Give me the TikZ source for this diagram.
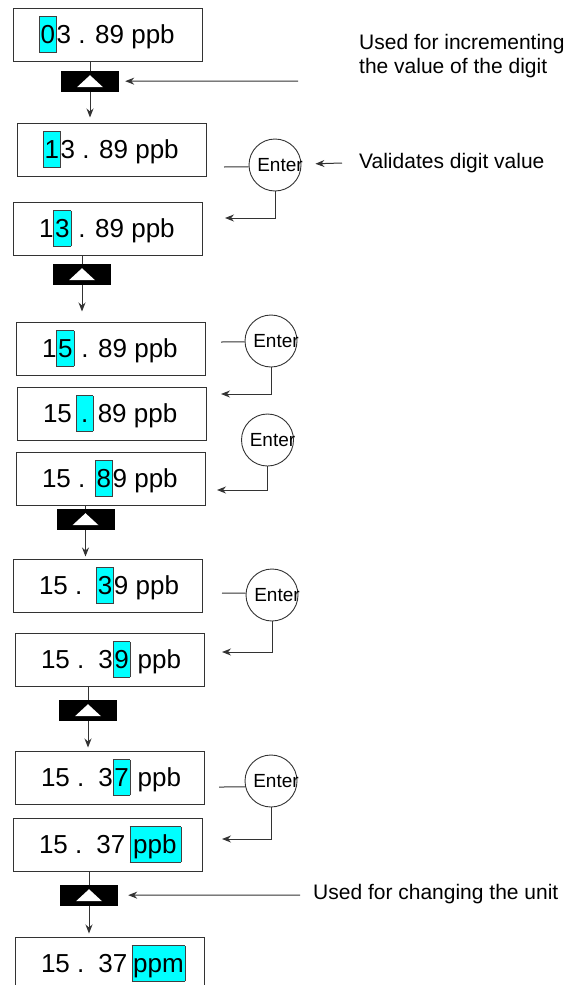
\documentclass[tikz,border=0pt]{standalone}
\usepackage{fontspec}
\setmainfont{Liberation Sans}
\usepackage{tikz}
\usetikzlibrary{positioning,arrows.meta}

\definecolor{cursorcyan}{RGB}{0,255,255}
% cyan cursor behind the digit being edited
\newcommand{\hl}[1]{{\setlength{\fboxsep}{1pt}\setlength{\fboxrule}{0.6pt}%
  \fcolorbox{black!75}{cursorcyan}{\rule[-8pt]{0pt}{33pt}#1}}}
% display text, left aligned inside the box
\newcommand{\readout}[1]{\makebox[137pt][l]{#1}}

\begin{document}
\begin{tikzpicture}[x=1pt, y=-1pt, >={Stealth[length=9pt,width=7pt]},
  display/.style={draw=black!80, line width=1pt, minimum width=189pt, minimum height=53pt,
    inner sep=0pt, font=\fontsize{26}{31}\selectfont},
  upkey/.style={fill=black, minimum width=58pt, minimum height=21pt, inner sep=0pt,
    path picture={\fill[white] ([shift={(-13pt,-6pt)}]path picture bounding box.center)
      -- ([shift={(13pt,-6pt)}]path picture bounding box.center)
      -- ([shift={(0pt,6pt)}]path picture bounding box.center) -- cycle;}},
  enterkey/.style={circle, draw=black!80, line width=0.9pt, minimum size=52pt, inner sep=0pt,
    label={[font=\fontsize{19}{21}\selectfont, xshift=5pt]center:Enter}},
  note/.style={anchor=base west, font=\fontsize{21}{24}\selectfont, align=left, inner sep=0pt},
  wire/.style={draw=black!80, line width=1pt}]
\useasboundingbox (0,0) rectangle (571,985);
\clip (0,0) rectangle (571,985);

% display states
\node[display] (d1) at (107.5,34.5) {\readout{\hl{0}3 . 89 ppb}};
\node[display] (d2) at (111.5,149.5) {\readout{\hl{1}3 . 89 ppb}};
\node[display] (d3) at (107.5,228.5) {\readout{1\hl{3} . 89 ppb}};
\node[display] (d4) at (110.5,348.5) {\readout{1\hl{5} . 89 ppb}};
\node[display] (d5) at (111.5,413.5) {\readout{15\,\hl{\makebox[14pt]{.}}\,89 ppb}};
\node[display] (d6) at (110.5,478.5) {\readout{15 . \hl{8}9 ppb}};
\node[display] (d7) at (107.5,585.5) {\readout{15 . \,\hl{3}9 ppb}};
\node[display] (d8) at (109.5,659.5) {\readout{15 . \,3\hl{9} ppb}};
\node[display] (d9) at (109.5,777.5) {\readout{15 . \,3\hl{7} ppb}};
\node[display] (d10) at (107.5,844.5) {\readout{15 . \,37\,\hl{\hspace{2pt}ppb\hspace{3pt}}}};
\node[display] (d11) at (109.5,963.5) {\readout{15 . \,37\,\hl{ppm}}};

% up keys
\node[upkey, below=9pt of d1, xshift=-17.5pt] (k1) {};
\node[upkey, below=8pt of d3, xshift=-25.5pt] (k2) {};
\node[upkey, below=3pt of d6, xshift=-25pt] (k3) {};
\node[upkey, below=13pt of d8, xshift=-21.5pt] (k4) {};
\node[upkey, below=13pt of d10, xshift=-18.5pt] (k5) {};

\draw[wire] (k1.north |- d1.south) -- (k1.north);
\draw[wire, ->, shorten >=5pt] (k1.south) -- (k1.south |- d2.north);
\draw[wire] (k2.north |- d3.south) -- (k2.north);
\draw[wire, ->, shorten >=10pt] (k2.south) -- (k2.south |- d4.north);
\draw[wire] (k3.north |- d6.south) -- (k3.north);
\draw[wire, ->, shorten >=2pt] (k3.south) -- (k3.south |- d7.north);
\draw[wire] (k4.north |- d8.south) -- (k4.north);
\draw[wire, ->, shorten >=3pt] (k4.south) -- (k4.south |- d9.north);
\draw[wire] (k5.north |- d10.south) -- (k5.north);
\draw[wire, ->, shorten >=3pt] (k5.south) -- (k5.south |- d11.north);

% enter keys
\node[enterkey] (e1) at (275,165) {};
\node[enterkey] (e2) at (271,341) {};
\node[enterkey] (e3) at (267.5,440) {};
\node[enterkey] (e4) at (272,595) {};
\node[enterkey] (e5) at (271,781) {};

\coordinate (s1) at (224,167);
\coordinate (s2) at (221,342);
\coordinate (s4) at (222,593);
\coordinate (s5) at (219,787);
\draw[wire] (s1) -- (e1.184);
\draw[wire] (s2) -- (e2.182);
\draw[wire] (s4) -- (e4.176);
\draw[wire] (s5) -- (e5.193);

\coordinate (r1) at (225,218);
\coordinate (r2) at (221,394);
\coordinate (r3) at (217,490);
\coordinate (r4) at (222,652);
\coordinate (r5) at (222,839);
\draw[wire, ->] (e1.south) |- (r1);
\draw[wire, ->] (e2.south) |- (r2);
\draw[wire, ->] (e3.south) |- (r3);
\draw[wire, ->] (e4.south) |- (r4);
\draw[wire, ->] (e5.south) |- (r5);

% side notes
\coordinate (a1) at (298,81);
\draw[wire, ->, shorten >=6pt] (a1) -- (k1);
\node[note] (n1) at (359,73) {Used for incrementing\\the value of the digit};

\coordinate (a2) at (342,163);
\draw[wire, ->, shorten >=14pt] (a2) -- (e1);
\node[note] (n2) at (359,168) {Validates digit value};

\coordinate (a3) at (300,895);
\draw[wire, ->, shorten >=10pt] (a3) -- (k5);
\node[note] (n3) at (313,899) {Used for changing the unit};
\end{tikzpicture}
\end{document}
